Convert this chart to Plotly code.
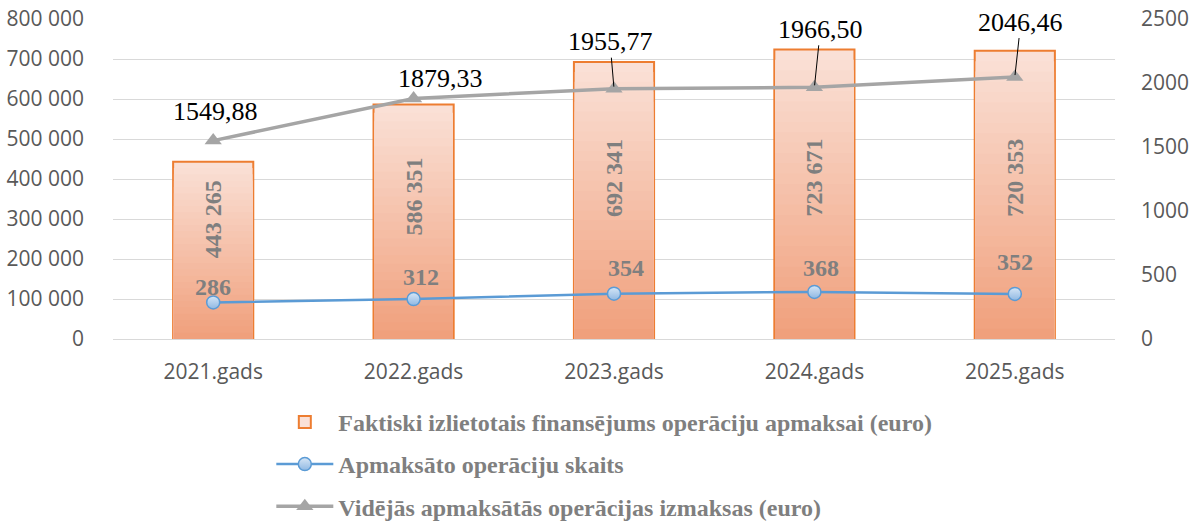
import plotly.graph_objects as go

# ---------------- data ----------------
years = ["2021.gads", "2022.gads", "2023.gads", "2024.gads", "2025.gads"]
funding = [443265, 586351, 692341, 723671, 720353]          # euro (left axis)
op_count = [286, 312, 354, 368, 352]                         # right axis
avg_cost = [1549.88, 1879.33, 1955.77, 1966.50, 2046.46]     # right axis

name_funding = "Faktiski izlietotais finansējums operāciju apmaksai (euro)"
name_count = "Apmaksāto operāciju skaits"
name_cost = "Vidējās apmaksātās operācijas izmaksas (euro)"

# ---------------- styling / layout params ----------------
SERIF = "Liberation Serif"
SANS = "Open Sans"
GRAY_TXT = "#7f7f7f"
TICK_TXT = "#595959"
BAR_W = 0.4
N_STEPS = 28
TOP_COL = (250, 224, 214)
BOT_COL = (240, 158, 121)

bar_label_y = [300000, 355000, 402500, 405000, 402500]
count_label_shift = [(0, 15), (7, 22), (12, 26), (7, 24), (0, 32)]
cost_label_pos = [("plain", 2, 29), ("plain", 27, 20), ("arrow", -4, -47),
                  ("arrow", 6, -58), ("arrow", 6, -55)]


def mix(f):
    return "rgb(%d,%d,%d)" % tuple(round(b + (t - b) * f) for t, b in zip(TOP_COL, BOT_COL))


fig = go.Figure()

# main bar with outline (legend entry)
fig.add_trace(go.Bar(
    x=years, y=funding, name=name_funding, width=BAR_W,
    marker=dict(color=mix(1.0), line=dict(color="#ed7d31", width=2)),
    legendgroup="a", hoverinfo="y",
))
# stepped gradient overlay
for k in range(N_STEPS - 1, 0, -1):
    f = k / N_STEPS
    fig.add_trace(go.Bar(
        x=years, y=[v * f for v in funding], width=BAR_W - 0.008,
        marker=dict(color=mix(f), line=dict(width=0)),
        showlegend=False, hoverinfo="skip",
    ))

fig.add_trace(go.Scatter(
    x=years, y=op_count, name=name_count, yaxis="y2", mode="lines+markers",
    line=dict(color="#5b9bd5", width=2.5),
    marker=dict(symbol="circle", size=13, color="#d6e6f6",
                gradient=dict(type="vertical", color="#8fb8e3"),
                line=dict(color="#5b9bd5", width=1.5)),
    legendgroup="b",
))
fig.add_trace(go.Scatter(
    x=years, y=avg_cost, name=name_cost, yaxis="y2", mode="lines+markers",
    line=dict(color="#a5a5a5", width=3.5),
    marker=dict(symbol="triangle-up", size=15, color="#a5a5a5"),
    legendgroup="c",
))

ann = []
for i, (yr, v) in enumerate(zip(years, funding)):
    ann.append(dict(x=yr, y=bar_label_y[i], xref="x", yref="y",
                    text=f"{v:,}".replace(",", " "), textangle=-90, showarrow=False,
                    font=dict(family=SERIF, size=24, color=GRAY_TXT, weight="bold")))
for i, (yr, v) in enumerate(zip(years, op_count)):
    dx, dy = count_label_shift[i]
    ann.append(dict(x=yr, y=v, xref="x", yref="y2", text=str(v), showarrow=False,
                    xshift=dx, yshift=dy,
                    font=dict(family=SERIF, size=24, color=GRAY_TXT, weight="bold")))
for i, (yr, v) in enumerate(zip(years, avg_cost)):
    kind, dx, dy = cost_label_pos[i]
    txt = f"{v:.2f}".replace(".", ",")
    fnt = dict(family=SERIF, size=26, color="#000000")
    if kind == "plain":
        ann.append(dict(x=yr, y=v, xref="x", yref="y2", text=txt, showarrow=False,
                        xshift=dx, yshift=dy, font=fnt))
    else:
        ann.append(dict(x=yr, y=v, xref="x", yref="y2", text=txt, showarrow=True,
                        arrowhead=0, arrowwidth=1, arrowcolor="#000000", standoff=2,
                        ax=dx, ay=dy, font=fnt))

fig.update_layout(
    width=1198, height=522,
    margin=dict(l=113, r=83, t=19, b=183, autoexpand=False),
    paper_bgcolor="white", plot_bgcolor="white",
    barmode="overlay",
    separators=", ",
    showlegend=True,
    legend=dict(orientation="v", x=0.158, xanchor="left", y=-0.19, yanchor="top",
                font=dict(family=SERIF, size=24, color=GRAY_TXT, weight="bold"),
                tracegroupgap=8, itemwidth=57, bgcolor="rgba(0,0,0,0)"),
    xaxis=dict(showgrid=False, showline=False, ticks="",
               tickfont=dict(family=SANS, size=21, color=TICK_TXT),
               ticklabelstandoff=18),
    yaxis=dict(range=[0, 800000], dtick=100000, tickformat=",d",
               showgrid=True, gridcolor="#d9d9d9", gridwidth=1.3,
               zeroline=True, zerolinecolor="#d9d9d9", zerolinewidth=1.3,
               showline=False, ticks="",
               tickfont=dict(family=SANS, size=21, color=TICK_TXT),
               ticklabelstandoff=28),
    yaxis2=dict(range=[0, 2500], dtick=500, tickformat="d", overlaying="y", side="right",
                showgrid=False, zeroline=False, showline=False, ticks="",
                tickfont=dict(family=SANS, size=21, color=TICK_TXT),
                ticklabelstandoff=25),
    annotations=ann,
)

fig.write_html("out.html", config={"displayModeBar": False},
               post_script="document.body.style.margin='0';document.body.style.overflow='hidden';")
